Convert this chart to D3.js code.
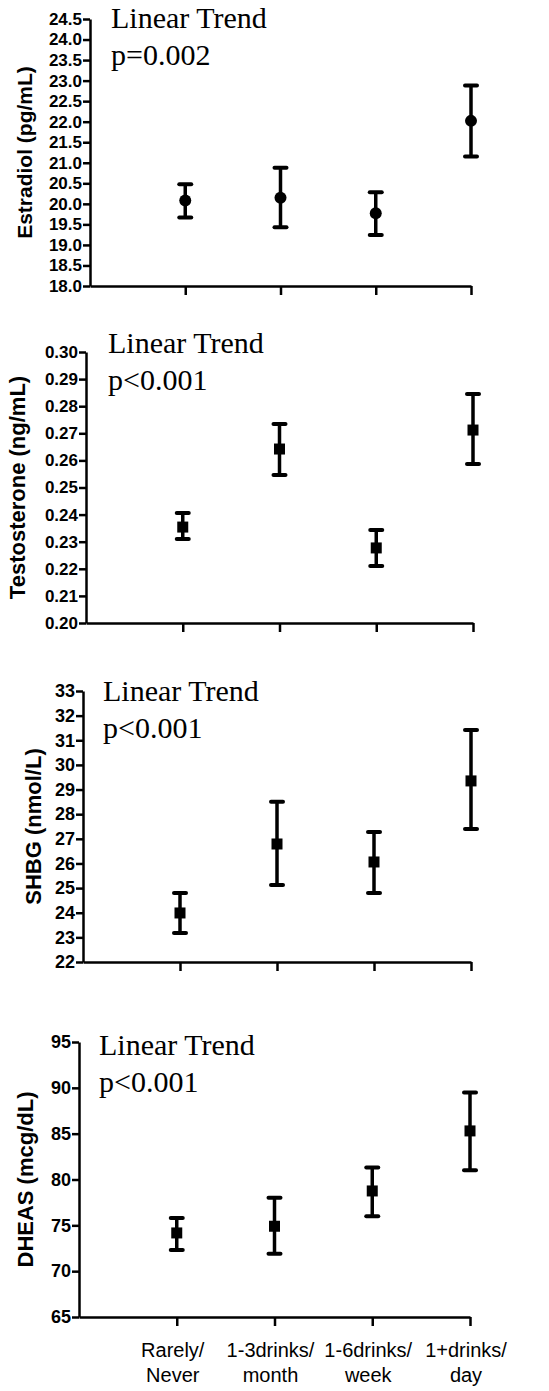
<!DOCTYPE html>
<html>
<head>
<meta charset="utf-8">
<script src="https://cdn.jsdelivr.net/npm/d3@7"></script>
<style>
  body { margin: 0; background: #fff; }
  svg { display: block; }
</style>
</head>
<body>
<div id="chart"></div>
<script>
// Data
const categories = [["Rarely/", "Never"], ["1-3drinks/", "month"], ["1-6drinks/", "week"], ["1+drinks/", "day"]];

const estradiolMean = [20.08, 20.15, 19.77, 22.02];
const estradiolLow  = [19.67, 19.43, 19.24, 21.15];
const estradiolHigh = [20.48, 20.88, 20.28, 22.88];
const estradiolTicks = [18.0, 18.5, 19.0, 19.5, 20.0, 20.5, 21.0, 21.5, 22.0, 22.5, 23.0, 23.5, 24.0, 24.5];

const testosteroneMean = [0.2354, 0.2642, 0.2277, 0.2712];
const testosteroneLow  = [0.2310, 0.2546, 0.2210, 0.2587];
const testosteroneHigh = [0.2406, 0.2734, 0.2343, 0.2845];
const testosteroneTicks = [0.20, 0.21, 0.22, 0.23, 0.24, 0.25, 0.26, 0.27, 0.28, 0.29, 0.30];

const shbgMean = [23.99, 26.79, 26.06, 29.35];
const shbgLow  = [23.18, 25.13, 24.80, 27.40];
const shbgHigh = [24.80, 28.50, 27.28, 31.42];
const shbgTicks = [22, 23, 24, 25, 26, 27, 28, 29, 30, 31, 32, 33];

const dheasMean = [74.17, 74.9, 78.75, 85.3];
const dheasLow  = [72.3, 71.9, 76.0, 81.0];
const dheasHigh = [75.8, 78.0, 81.3, 89.5];
const dheasTicks = [65, 70, 75, 80, 85, 90, 95];

const yTitles = ["Estradiol (pg/mL)", "Testosterone (ng/mL)", "SHBG (nmol/L)", "DHEAS (mcg/dL)"];
const trendTitle = "Linear Trend";
const pValues = ["p=0.002", "p<0.001", "p<0.001", "p<0.001"];

const SANS = "'Liberation Sans', Arial, sans-serif";
const SERIF = "'Liberation Serif', 'Times New Roman', serif";

// Panel layout (pixels)
const panels = [
  { mean: estradiolMean, low: estradiolLow, high: estradiolHigh, ticks: estradiolTicks, fmt: ".1f", marker: "circle",
    left: 90, right: 471, top: 19, bottom: 286, titleX: 32, titleSize: 21, tickSize: 17, textX: 111, textY: 28 },
  { mean: testosteroneMean, low: testosteroneLow, high: testosteroneHigh, ticks: testosteroneTicks, fmt: ".2f", marker: "square",
    left: 86, right: 473, top: 352, bottom: 623, titleX: 25, titleSize: 22, tickSize: 17, textX: 108, textY: 353 },
  { mean: shbgMean, low: shbgLow, high: shbgHigh, ticks: shbgTicks, fmt: "d", marker: "square",
    left: 83, right: 471, top: 691, bottom: 962, titleX: 41, titleSize: 22, tickSize: 18, textX: 103, textY: 701 },
  { mean: dheasMean, low: dheasLow, high: dheasHigh, ticks: dheasTicks, fmt: "d", marker: "square",
    left: 79, right: 470, top: 1042, bottom: 1317, titleX: 33, titleSize: 22, tickSize: 18, textX: 99, textY: 1055 }
];

const svg = d3.select("#chart").append("svg")
  .attr("width", 549)
  .attr("height", 1391);

svg.append("rect").attr("width", 549).attr("height", 1391).attr("fill", "#fff");

panels.forEach((p, i) => {
  const g = svg.append("g");

  const x = d3.scaleLinear().domain([0, 4]).range([p.left, p.right]);
  const y = d3.scaleLinear().domain([p.ticks[0], p.ticks[p.ticks.length - 1]]).range([p.bottom, p.top]);

  // Y axis
  const yAxis = g.append("g")
    .attr("transform", `translate(${p.left},0)`)
    .call(d3.axisLeft(y).tickValues(p.ticks).tickFormat(d3.format(p.fmt)).tickSizeInner(7).tickSizeOuter(0).tickPadding(1));
  yAxis.attr("font-family", null).attr("font-size", null);
  yAxis.selectAll("text")
    .style("font-family", SANS)
    .style("font-weight", "bold")
    .style("font-size", p.tickSize + "px")
    .attr("fill", "#000");

  // X axis
  g.append("g")
    .attr("transform", `translate(0,${p.bottom})`)
    .call(d3.axisBottom(x).tickValues([1, 2, 3, 4]).tickFormat("").tickSizeInner(9).tickSizeOuter(0));

  g.selectAll(".domain, .tick line")
    .attr("stroke", "#000")
    .attr("stroke-width", 2.5);

  // Y title
  g.append("text")
    .attr("transform", `translate(${p.titleX},${(p.top + p.bottom) / 2}) rotate(-90)`)
    .attr("text-anchor", "middle")
    .style("font-family", SANS)
    .style("font-weight", "bold")
    .style("font-size", p.titleSize + "px")
    .text(yTitles[i]);

  // Trend annotation
  g.append("text")
    .attr("x", p.textX)
    .attr("y", p.textY)
    .style("font-family", SERIF)
    .style("font-size", "30px")
    .text(trendTitle);
  g.append("text")
    .attr("x", p.textX)
    .attr("y", p.textY + 37)
    .style("font-family", SERIF)
    .style("font-size", "30px")
    .text(pValues[i]);

  // Error bars
  const idx = [0, 1, 2, 3];
  g.selectAll(".stem").data(idx).enter().append("line")
    .attr("x1", d => x(d + 1)).attr("x2", d => x(d + 1))
    .attr("y1", d => y(p.low[d])).attr("y2", d => y(p.high[d]))
    .attr("stroke", "#000").attr("stroke-width", 3.5);

  ["low", "high"].forEach(k => {
    g.selectAll(".cap-" + k).data(idx).enter().append("line")
      .attr("x1", d => x(d + 1) - 6).attr("x2", d => x(d + 1) + 6)
      .attr("y1", d => y(p[k][d])).attr("y2", d => y(p[k][d]))
      .attr("stroke", "#000").attr("stroke-width", 4)
      .attr("stroke-linecap", "round");
  });

  // Markers
  if (p.marker === "circle") {
    g.selectAll(".pt").data(idx).enter().append("circle")
      .attr("cx", d => x(d + 1))
      .attr("cy", d => y(p.mean[d]))
      .attr("r", 6)
      .attr("fill", "#000");
  } else {
    g.selectAll(".pt").data(idx).enter().append("rect")
      .attr("x", d => x(d + 1) - 5.5)
      .attr("y", d => y(p.mean[d]) - 5.5)
      .attr("width", 11)
      .attr("height", 11)
      .attr("fill", "#000");
  }

  // Category labels under the last panel
  if (i === panels.length - 1) {
    const labels = g.selectAll(".cat").data(categories).enter().append("text")
      .attr("text-anchor", "middle")
      .style("font-family", SANS)
      .style("font-size", "20px")
      .attr("fill", "#000");
    labels.each(function(d, j) {
      const t = d3.select(this);
      d.forEach((line, k) => {
        t.append("tspan")
          .attr("x", x(j + 1) - 4)
          .attr("y", p.bottom + 40 + k * 25)
          .text(line);
      });
    });
  }
});
</script>
</body>
</html>
